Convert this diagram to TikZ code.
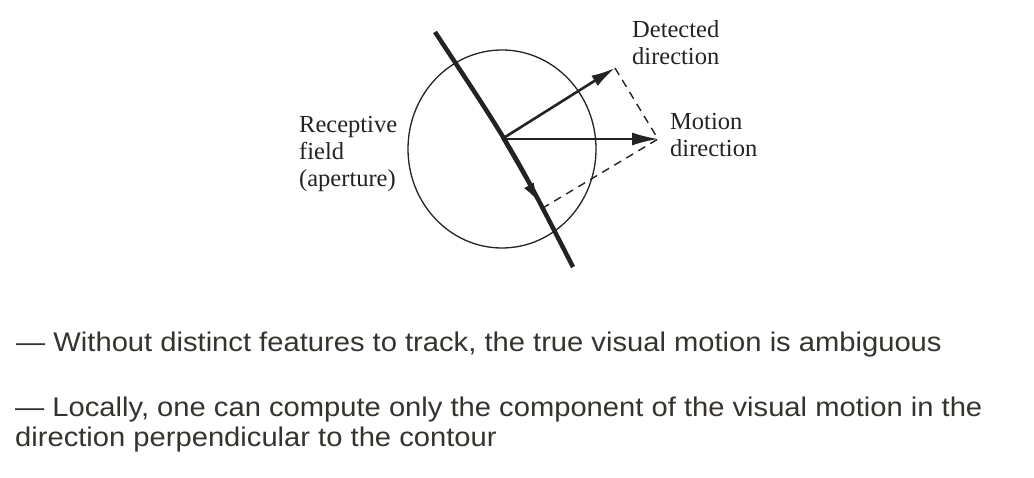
\documentclass[tikz,border=0pt]{standalone}
\usepackage{fontspec}
\setmainfont{Liberation Serif}
\newfontfamily\bodysans[FakeStretch=1.08]{Liberation Sans}
\usetikzlibrary{arrows.meta}
\definecolor{bodytext}{RGB}{54,51,46}
\definecolor{ink}{RGB}{35,35,35}
\tikzset{
  figlabel/.style={anchor=base west,inner sep=0pt,align=left,text=ink,
    font=\fontsize{24.5}{27}\selectfont},
  bodyline/.style={anchor=base west,inner sep=0pt,align=left,text=bodytext,
    font=\bodysans\fontsize{27}{30}\selectfont},
  contour/.style={ink,line width=4.5pt,line cap=butt},
  vec/.style={ink,line width=2.6pt,-{Latex[length=24pt,width=12pt]}},
  mvec/.style={ink,line width=1.8pt,-{Latex[length=26pt,width=13pt]}},
  aperture/.style={ink,line width=1.3pt},
  helper/.style={ink,line width=1.4pt,dash pattern=on 8pt off 6pt},
}
\begin{document}
\begin{tikzpicture}[x=1pt,y=-1pt]
\useasboundingbox (0,0) rectangle (1034,478);
% geometry
\coordinate (C) at (502,149);
\coordinate (O) at (502,139);
\coordinate (D) at (615,68);
\coordinate (M) at (658,139);
\coordinate (P) at (542,208.5);
\coordinate (T1) at (435,32);
\coordinate (X) at (513,150);
\coordinate (T2) at (573,267);
\coordinate (Q) at (538,201);
% aperture
\draw[aperture] (C) ellipse [x radius=94,y radius=99];
% dashed construction
\draw[helper] (D) -- (M) -- (P);
% contour (gently curved)
\draw[contour] (T1) .. controls (X) .. (T2);
\draw[ink,line width=1pt,-{Latex[length=18pt,width=11pt]}] (O) -- (Q);
% vectors
\draw[vec] (O) -- (D);
\draw[mvec] (O) -- (M);
% labels (base anchor = baseline of the last line)
\node[figlabel] (det) at (632,65) {Detected\\direction};
\node[figlabel] (mot) at (670,157) {Motion\\direction};
\node[figlabel] (rec) at (299,187) {Receptive\\field\\(aperture)};
% body text
\node[bodyline] (l1) at (16,351.7) {— Without distinct features to track, the true visual motion is ambiguous};
\node[bodyline] (l2) at (15,446.7) {— Locally, one can compute only the component of the visual motion in the\\direction perpendicular to the contour};
\end{tikzpicture}
\end{document}
